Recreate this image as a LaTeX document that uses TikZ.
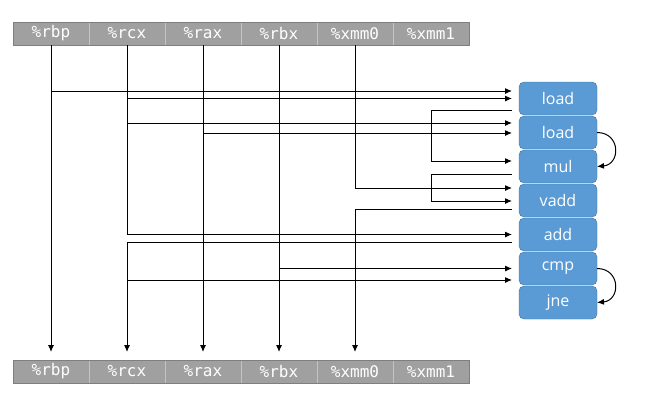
\documentclass[tikz,border=0pt]{standalone}
\usepackage{fontspec}
\usetikzlibrary{arrows.meta,positioning,calc}
\newfontfamily\regfont{DejaVu Sans Mono}
\newfontfamily\insfont{Open Sans}
\definecolor{rf}{HTML}{A0A0A0}
\definecolor{rb}{HTML}{C4C4C4}
\definecolor{ro}{HTML}{7F7F7F}
\definecolor{bf}{HTML}{5B9BD5}
\definecolor{bb}{HTML}{41719C}

\begin{document}
\begin{tikzpicture}[x=1pt,y=-1pt,
  reg/.style={draw=rb,fill=rf,text=white,minimum width=76pt,minimum height=23pt,inner sep=0pt,outer sep=0pt,font=\regfont\fontsize{16}{16}\selectfont},
  ins/.style={draw=bb,fill=bf,text=white,rounded corners=5pt,minimum width=78pt,minimum height=33pt,inner sep=0pt,outer sep=0pt,font=\insfont\fontsize{16}{16}\selectfont},
  ar/.style={-{Latex[length=7pt,width=6pt]},line width=1pt},
  dn/.style={ar,shorten >=8pt}]
\useasboundingbox (0,0) rectangle (646,408);
% registers before
\node[reg] (t1) at (51,33.5) {\%rbp};
\node[reg,right=0pt of t1] (t2) {\%rcx};
\node[reg,right=0pt of t2] (t3) {\%rax};
\node[reg,right=0pt of t3] (t4) {\%rbx};
\node[reg,right=0pt of t4] (t5) {\%xmm0};
\node[reg,right=0pt of t5] (t6) {\%xmm1};
\draw[ro] (t1.north west) rectangle (t6.south east);
% registers after
\node[reg] (b1) at (51,371.5) {\%rbp};
\node[reg,right=0pt of b1] (b2) {\%rcx};
\node[reg,right=0pt of b2] (b3) {\%rax};
\node[reg,right=0pt of b3] (b4) {\%rbx};
\node[reg,right=0pt of b4] (b5) {\%xmm0};
\node[reg,right=0pt of b5] (b6) {\%xmm1};
\draw[ro] (b1.north west) rectangle (b6.south east);
% instructions
\node[ins] (ld1) at (558,98.5) {load};
\node[ins,below=1pt of ld1] (ld2) {load};
\node[ins,below=1pt of ld2] (mul) {mul};
\node[ins,below=1pt of mul] (vadd) {vadd};
\node[ins,below=1pt of vadd] (add) {add};
\node[ins,below=1pt of add] (cmp) {cmp};
\node[ins,below=1pt of cmp] (jne) {jne};
% ports
\coordinate (ld1a) at ([xshift=-7pt,yshift=7.5pt]ld1.west);
\coordinate (ld1b) at ([xshift=-7pt]ld1.west);
\coordinate (ld1o) at ([xshift=-7pt,yshift=-11.5pt]ld1.west);
\coordinate (ld2a) at ([xshift=-7pt,yshift=9.5pt]ld2.west);
\coordinate (ld2b) at ([xshift=-7pt,yshift=-0.5pt]ld2.west);
\coordinate (mula) at ([xshift=-7pt,yshift=5.5pt]mul.west);
\coordinate (mulo) at ([xshift=-7pt,yshift=-7.5pt]mul.west);
\coordinate (vadda) at ([xshift=-7pt,yshift=12.5pt]vadd.west);
\coordinate (vaddb) at ([xshift=-7pt,yshift=-0.5pt]vadd.west);
\coordinate (vaddo) at ([xshift=-7pt,yshift=-8.5pt]vadd.west);
\coordinate (adda) at ([xshift=-7pt]add.west);
\coordinate (addo) at ([xshift=-7pt,yshift=-7.5pt]add.west);
\coordinate (cmpa) at ([xshift=-7pt]cmp.west);
\coordinate (cmpb) at ([xshift=-7pt,yshift=-11.5pt]cmp.west);
% register lines
\draw[dn] (t1.south) -- (b1.north);
\draw[dn] (t3.south) -- (b3.north);
\draw[dn] (t4.south) -- (b4.north);
\draw[ar] (t2.south) |- (adda);
\draw[dn] (addo) -| (b2.north);
\draw[ar] (t5.south) |- (vadda);
\draw[dn] (vaddo) -| (b5.north);
% reads
\draw[ar] (t1 |- ld1a) -- (ld1a);
\draw[ar] (t2 |- ld1b) -- (ld1b);
\draw[ar] (t2 |- ld2a) -- (ld2a);
\draw[ar] (t3 |- ld2b) -- (ld2b);
\draw[ar] (t4 |- cmpa) -- (cmpa);
\draw[ar] (b2 |- cmpb) -- (cmpb);
% dependencies
\draw[ar] (ld1o) -- ++(-81,0) |- (mula);
\draw[ar] (mulo) -- ++(-81,0) |- (vaddb);
\draw[ar] (ld2.east) to[out=0,in=5,looseness=1.8] (mul.east);
\draw[ar] (cmp.east) to[out=0,in=5,looseness=1.8] (jne.east);
\end{tikzpicture}
\end{document}
